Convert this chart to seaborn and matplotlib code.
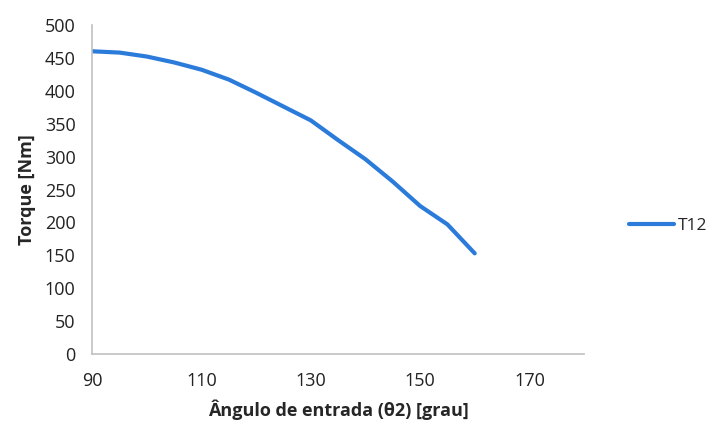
import matplotlib
matplotlib.use("Agg")
import matplotlib.pyplot as plt
import seaborn as sns
import pandas as pd

# values
angle = [90, 95, 100, 105, 110, 115, 120, 125, 130, 135, 140, 145, 150, 155, 160]
torque = [460, 458, 452, 443, 432, 417, 397, 376, 355, 325, 296, 262, 225, 197, 153]
series_name = "T12"
x_ticks = [90, 110, 130, 150, 170]
y_ticks = list(range(0, 501, 50))

df = pd.DataFrame({"angle": angle, "torque": torque, "serie": series_name})

sns.set_style("white")
plt.rcParams["font.family"] = ["Open Sans", "DejaVu Sans"]

fig = plt.figure(figsize=(7.1, 4.23), dpi=100)
ax = fig.add_axes([0.13, 0.163, 0.6925, 0.778])

sns.lineplot(data=df, x="angle", y="torque", hue="serie", palette=["#2b7bdb"],
             linewidth=3, ax=ax, solid_capstyle="round")

ax.set_xlim(90, 180)
ax.set_ylim(0, 500)
ax.set_xticks(x_ticks)
ax.set_yticks(y_ticks)
ax.tick_params(axis="both", length=0, labelsize=13, colors="#222222")
ax.tick_params(axis="x", pad=13)
ax.tick_params(axis="y", pad=12)

for s in ["top", "right"]:
    ax.spines[s].set_visible(False)
for s in ["left", "bottom"]:
    ax.spines[s].set_color("#c0c0c0")
    ax.spines[s].set_linewidth(1.2)

ax.set_xlabel("Ângulo de entrada (θ2) [grau]", fontsize=13, fontweight="bold", labelpad=7)
ax.set_ylabel("Torque [Nm]", fontsize=13, fontweight="bold", labelpad=6)

leg = ax.legend(loc="center left", bbox_to_anchor=(1.06, 0.39), frameon=False,
                fontsize=12.5, handlelength=2.6, handletextpad=0.2)
for line in leg.get_lines():
    line.set_linewidth(3)

fig.savefig("out.png", dpi=100)
